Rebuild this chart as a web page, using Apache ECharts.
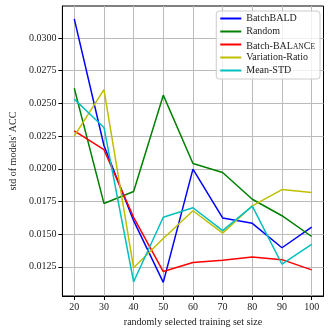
<!DOCTYPE html>
<html>
<head>
<meta charset="utf-8">
<script src="https://cdn.jsdelivr.net/npm/echarts@6/dist/echarts.min.js"></script>
<style>
  html, body { margin: 0; padding: 0; background: #fff; }
  #chart { width: 332px; height: 332px; }
</style>
</head>
<body>
<div id="chart"></div>
<script>
// training set sizes (x)
const sizes = [20, 30, 40, 50, 60, 70, 80, 90, 100];

// std of models' ACC per method
const batchBald      = [0.03146, 0.02178, 0.01603, 0.01131, 0.01997, 0.01624, 0.01583, 0.01396, 0.01553];
const randomSel      = [0.02616, 0.01735, 0.01826, 0.02563, 0.02040, 0.01972, 0.01767, 0.01641, 0.01482];
const batchBalance   = [0.02290, 0.02146, 0.01629, 0.01214, 0.01283, 0.01300, 0.01326, 0.01305, 0.01227];
const variationRatio = [0.02250, 0.02606, 0.01243, 0.01467, 0.01679, 0.01508, 0.01717, 0.01841, 0.01818];
const meanStd        = [0.02533, 0.02316, 0.01136, 0.01629, 0.01702, 0.01527, 0.01714, 0.01270, 0.01421];

const yTicks = [0.0125, 0.0150, 0.0175, 0.0200, 0.0225, 0.0250, 0.0275, 0.0300];
const xTicks = [20, 30, 40, 50, 60, 70, 80, 90, 100];

const font = 'Liberation Serif';

function pairs(vals) {
  return sizes.map((s, i) => [s, vals[i]]);
}

const methods = [
  { name: 'BatchBALD', data: batchBald, color: '#0000ff' },
  { name: 'Random', data: randomSel, color: '#008000' },
  { name: 'Batch-BALANCE', data: batchBalance, color: '#ff0000' },
  { name: 'Variation-Ratio', data: variationRatio, color: '#bfbf00' },
  { name: 'Mean-STD', data: meanStd, color: '#00bfbf' }
];

const chart = echarts.init(document.getElementById('chart'));

chart.setOption({
  animation: false,
  backgroundColor: '#fff',
  grid: {
    left: 49.5, right: 8.5, top: 6, bottom: 33,
    show: true, borderColor: '#000', borderWidth: 1, backgroundColor: 'transparent'
  },
  legend: {
    orient: 'vertical',
    right: 12, top: 11,
    icon: 'rect',
    itemWidth: 21, itemHeight: 2,
    itemGap: 0,
    padding: [1, 5, 2, 4],
    backgroundColor: 'rgba(255,255,255,0.8)',
    borderColor: '#cccccc', borderWidth: 1, borderRadius: 3,
    textStyle: {
      fontFamily: font, fontSize: 10, color: '#222', lineHeight: 13,
      rich: {
        n: { fontFamily: font, fontSize: 10, color: '#222', lineHeight: 13, verticalAlign: 'bottom' },
        sc: { fontFamily: font, fontSize: 7.5, color: '#222', lineHeight: 11.5, verticalAlign: 'bottom' }
      }
    },
    formatter: function (name) {
      if (name === 'Batch-BALANCE') return '{n|Batch-BAL}{sc|AN}{n|C}{sc|E}';
      return name;
    },
    data: methods.map(m => m.name)
  },
  xAxis: {
    type: 'value',
    min: 16, max: 104,
    name: 'randomly selected training set size',
    nameLocation: 'middle', nameGap: 21,
    nameTextStyle: { fontFamily: font, fontSize: 10, color: '#222' },
    axisLine: { show: true, lineStyle: { color: '#000', width: 1 } },
    axisTick: { show: true, customValues: xTicks, length: 4, lineStyle: { color: '#000' } },
    axisLabel: {
      customValues: xTicks, margin: 6,
      fontFamily: font, fontSize: 10, color: '#222'
    },
    splitLine: { show: true, lineStyle: { color: '#bbbbbb', width: 1 } }
  },
  yAxis: {
    type: 'value',
    min: 0.01027, max: 0.03245,
    name: "std of models' ACC",
    nameLocation: 'middle', nameGap: 42,
    nameTextStyle: { fontFamily: font, fontSize: 10, color: '#222' },
    axisLine: { show: true, lineStyle: { color: '#000', width: 1 } },
    axisTick: { show: true, customValues: yTicks, length: 4, lineStyle: { color: '#000' } },
    axisLabel: {
      customValues: yTicks, margin: 6,
      fontFamily: font, fontSize: 10, color: '#222',
      formatter: v => v.toFixed(4)
    },
    splitLine: { show: true, lineStyle: { color: '#bbbbbb', width: 1 } }
  },
  series: methods.map(m => ({
    name: m.name,
    type: 'line',
    data: pairs(m.data),
    symbol: 'none',
    color: m.color,
    lineStyle: { color: m.color, width: 1.5 }
  }))
});
</script>
</body>
</html>
